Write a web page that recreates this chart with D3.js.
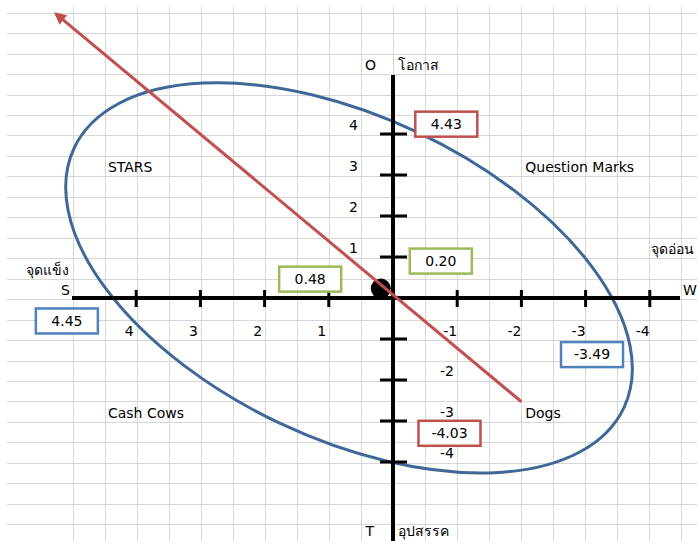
<!DOCTYPE html>
<html>
<head>
<meta charset="utf-8">
<script src="https://cdn.jsdelivr.net/npm/d3@7"></script>
<style>
  body { margin: 0; background: #fff; }
  text { font-family: "DejaVu Sans", "Noto Sans", sans-serif; font-size: 14px; fill: #000; }
</style>
</head>
<body>
<div id="chart"></div>
<script>
const svgWidth = 697;
const svgHeight = 541;

// values
const xTicks = [4, 3, 2, 1, -1, -2, -3, -4];
const yTicks = [4, 3, 2, 1, -2, -3, -4];
const xTickLabels = ["4", "3", "2", "1", "-1", "-2", "-3", "-4"];
const yTickLabels = ["4", "3", "2", "1", "-2", "-3", "-4"];

const quadrants = ["STARS", "Question Marks", "Cash Cows", "Dogs"];
const quadrantX = [4.44, -2.06, 4.44, -2.06];
const quadrantY = [3.2, 3.2, -2.8, -2.8];

const boxValues = ["4.43", "0.20", "0.48", "4.45", "-3.49", "-4.03"];
const boxKinds = ["red", "green", "green", "blue", "blue", "red"];
const boxX = [-0.83, -0.745, 1.29, 5.08, -3.10, -0.88];
const boxY = [4.24, 0.90, 0.46, -0.56, -1.38, -3.30];

// strategy line: from Dogs end to arrow tip
const lineX = [-2.0, 5.25];
const lineY = [-2.53, 6.93];

const dotPoint = [0.19, 0.23];
const ellipseCenter = [0.685, 0.49];

let red = "#c0504d";
let green = "#9bbb59";
let blue = "#4f81bd";
let ellipseBlue = "#3f6797";

const svg = d3.select("#chart")
  .append("svg")
  .attr("width", svgWidth)
  .attr("height", svgHeight);

// scales: strengths to the left, weaknesses to the right
const x = d3.scaleLinear().domain([5, -5]).range([72, 714]);
const y = d3.scaleLinear().domain([-6, 6]).range([544, 52]);

// spreadsheet grid behind everything
const grid = svg.append("g").attr("stroke", "#d6d6d6").attr("stroke-width", 1);
grid.selectAll(".hline")
  .data(d3.range(26).map(i => 12.7 + i * 20.46))
  .enter().append("line")
  .attr("x1", 7).attr("x2", svgWidth)
  .attr("y1", d => Math.round(d) + 0.5).attr("y2", d => Math.round(d) + 0.5);
grid.selectAll(".vline")
  .data(d3.range(20).map(i => 73.3 + i * 32))
  .enter().append("line")
  .attr("y1", 7).attr("y2", svgHeight)
  .attr("x1", d => Math.round(d) + 0.5).attr("x2", d => Math.round(d) + 0.5);

// ellipse
svg.append("ellipse")
  .attr("cx", x(ellipseCenter[0]))
  .attr("cy", y(ellipseCenter[1]))
  .attr("rx", 304)
  .attr("ry", 161)
  .attr("transform", `rotate(25.3, ${x(ellipseCenter[0])}, ${y(ellipseCenter[1])})`)
  .attr("fill", "none")
  .attr("stroke", ellipseBlue)
  .attr("stroke-width", 3);

// black dot near origin
svg.append("circle")
  .attr("cx", x(dotPoint[0]))
  .attr("cy", y(dotPoint[1]))
  .attr("r", 10)
  .attr("fill", "#000");

// axes
const axes = svg.append("g").attr("stroke", "#000");
axes.append("line")
  .attr("x1", x(5)).attr("x2", 680)
  .attr("y1", y(0)).attr("y2", y(0))
  .attr("stroke-width", 4);
axes.append("line")
  .attr("x1", x(0)).attr("x2", x(0))
  .attr("y1", 75).attr("y2", svgHeight)
  .attr("stroke-width", 4);

axes.selectAll(".xtick")
  .data(xTicks)
  .enter().append("line")
  .attr("x1", d => x(d)).attr("x2", d => x(d))
  .attr("y1", y(0) - 8).attr("y2", y(0) + 9)
  .attr("stroke-width", 3);
axes.selectAll(".ytick")
  .data([4, 3, 2, 1, -1, -2, -3, -4])
  .enter().append("line")
  .attr("x1", x(0) - 13).attr("x2", x(0) + 14)
  .attr("y1", d => y(d)).attr("y2", d => y(d))
  .attr("stroke-width", 3);

svg.selectAll(".xlabel")
  .data(xTicks)
  .enter().append("text")
  .attr("x", d => x(d) - 7)
  .attr("y", y(0) + 33)
  .attr("text-anchor", "middle")
  .attr("dy", "0.35em")
  .text((d, i) => xTickLabels[i]);

svg.selectAll(".ylabel")
  .data(yTicks)
  .enter().append("text")
  .attr("x", d => d > 0 ? x(0) - 35 : x(0) + 54)
  .attr("y", d => y(d) - 9)
  .attr("text-anchor", d => d > 0 ? "end" : "middle")
  .attr("dy", "0.35em")
  .text((d, i) => yTickLabels[i]);

// red strategy arrow
svg.append("defs").append("marker")
  .attr("id", "arrow")
  .attr("viewBox", "0 0 10 10")
  .attr("refX", 8).attr("refY", 5)
  .attr("markerWidth", 4.2).attr("markerHeight", 4)
  .attr("markerUnits", "strokeWidth")
  .attr("orient", "auto")
  .append("path")
  .attr("d", "M0,0 L10,5 L0,10 Z")
  .attr("fill", red);

svg.append("line")
  .attr("x1", x(lineX[0])).attr("y1", y(lineY[0]))
  .attr("x2", x(lineX[1])).attr("y2", y(lineY[1]))
  .attr("stroke", red)
  .attr("stroke-width", 3)
  .attr("marker-end", "url(#arrow)");

// value boxes
const boxColor = {red: red, green: green, blue: blue};
const boxes = svg.selectAll(".box")
  .data(boxValues)
  .enter().append("g")
  .attr("transform", (d, i) => `translate(${x(boxX[i])}, ${y(boxY[i])})`);
boxes.append("rect")
  .attr("x", -31).attr("y", -12.5)
  .attr("width", 62).attr("height", 25)
  .attr("fill", "#fff")
  .attr("stroke", (d, i) => boxColor[boxKinds[i]])
  .attr("stroke-width", 2.5);
boxes.append("text")
  .attr("text-anchor", "middle")
  .attr("dy", "0.35em")
  .text(d => d);

// quadrant names
svg.selectAll(".quad")
  .data(quadrants)
  .enter().append("text")
  .attr("x", (d, i) => x(quadrantX[i]))
  .attr("y", (d, i) => y(quadrantY[i]))
  .attr("dy", "0.35em")
  .text(d => d);

// axis end labels
const ends = [
  {t: "จุดแข็ง", x: 47, y: 270, a: "middle"},
  {t: "S", x: 70, y: 290, a: "end"},
  {t: "W", x: 683, y: 290, a: "start"},
  {t: "จุดอ่อน", x: 651, y: 249, a: "start"},
  {t: "O", x: 376, y: 65, a: "end"},
  {t: "โอกาส", x: 398, y: 65, a: "start"},
  {t: "T", x: 374, y: 531, a: "end"},
  {t: "อุปสรรค", x: 398, y: 531, a: "start"}
];
svg.selectAll(".end")
  .data(ends)
  .enter().append("text")
  .attr("x", d => d.x)
  .attr("y", d => d.y)
  .attr("text-anchor", d => d.a)
  .attr("dy", "0.35em")
  .text(d => d.t);
</script>
</body>
</html>
